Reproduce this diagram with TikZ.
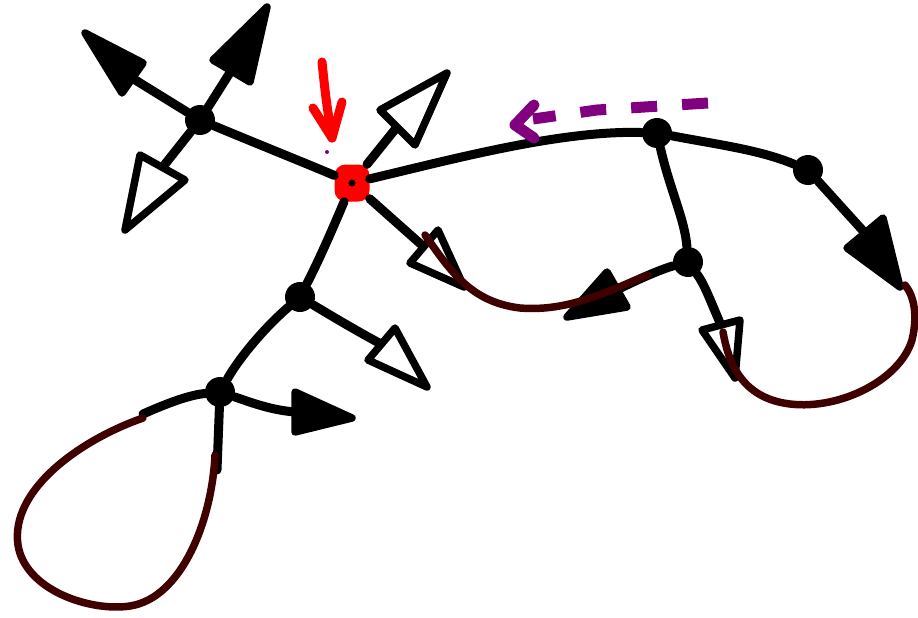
\documentclass[tikz,border=0pt]{standalone}
\definecolor{wine}{HTML}{3F0000}
\definecolor{plum}{HTML}{800080}
\tikzset{
  dot/.style={circle, fill=black, inner sep=0pt, minimum size=30pt},
  hub/.style={rectangle, rounded corners=11pt, fill=red, inner sep=0pt, minimum width=35pt, minimum height=37pt},
  ink/.style={draw=black, line width=9pt, line cap=round, line join=round},
  loopline/.style={draw=wine, line width=7.5pt, line cap=round, line join=round},
  headopen/.style={draw=black, fill=white, line width=7.5pt, line join=round},
  headfull/.style={draw=black, fill=black, line width=7.5pt, line join=round},
}
\begin{document}
\begin{tikzpicture}[x=1pt, y=-1pt]
\useasboundingbox (0,0) rectangle (918,618);

% hubs
\node[dot] (A) at (200,120) {};
\node[hub] (R) at (352,183) {};
\fill[black] (R.center) circle (3.5);
\node[dot] (B) at (300,297) {};
\node[dot] (C) at (220,392) {};
\node[dot] (D) at (657,133) {};
\node[dot] (E) at (808,170) {};
\node[dot] (F) at (688,262) {};

% ends of the arrow shafts (base of each head)
\coordinate (a1) at (132,78);
\coordinate (a2) at (231,71);
\coordinate (a3) at (162,168);
\coordinate (r1) at (397,127);
\coordinate (r2) at (424,247);
\coordinate (b1) at (381,344);
\coordinate (c1) at (295,412);
\coordinate (cl) at (143,414);
\coordinate (cd) at (217,470);
\coordinate (e1) at (865,233);
\coordinate (f1) at (721,325);
\coordinate (f2) at (617,290);

% shafts and links
\draw[ink] (A) -- (a1);
\draw[ink] (A) -- (a2);
\draw[ink] (A) -- (a3);
\draw[ink] (A) .. controls (260,145) and (310,165) .. (R);
\draw[ink] (R) -- (r1);
\draw[ink] (R) -- (r2);
\draw[ink] (R) .. controls (450,160) and (560,130) .. (D);
\draw[ink] (R) .. controls (330,235) and (318,262) .. (B);
\draw[ink] (B) .. controls (262,330) and (238,360) .. (C);
\draw[ink] (B) .. controls (330,315) and (355,330) .. (b1);
\draw[ink] (C) .. controls (250,402) and (270,410) .. (c1);
\draw[ink] (C) .. controls (190,395) and (170,402) .. (cl);
\draw[ink] (C) -- (cd);
\draw[ink] (D) .. controls (720,145) and (760,150) .. (E);
\draw[ink] (E) -- (e1);
\draw[ink] (D) .. controls (670,190) and (685,220) .. (F);
\draw[ink] (F) .. controls (705,285) and (712,305) .. (f1);
\draw[ink] (F) .. controls (665,268) and (640,278) .. (f2);

% arrow heads
\filldraw[headfull] (85,33) -- (143,63) -- (122,93) -- cycle;
\filldraw[headfull] (267,7) -- (213,60) -- (250,82) -- cycle;
\filldraw[headopen] (125,230) -- (140,155) -- (185,180) -- cycle;
\filldraw[headopen] (447,73) -- (380,110) -- (415,145) -- cycle;
\filldraw[headopen] (464,287) -- (410,263) -- (438,230) -- cycle;
\filldraw[headopen] (427,387) -- (368,360) -- (395,328) -- cycle;
\filldraw[headfull] (352,418) -- (295,392) -- (295,432) -- cycle;
\filldraw[headfull] (900,287) -- (847,248) -- (883,218) -- cycle;
\filldraw[headopen] (735,378) -- (702,330) -- (740,320) -- cycle;
\filldraw[headfull] (567,317) -- (607,272) -- (627,307) -- cycle;

% dark red strokes
\draw[loopline] (143,418) .. controls (80,440) and (10,490) .. (18,545)
  .. controls (25,590) and (90,612) .. (130,606)
  .. controls (182,598) and (212,520) .. (215,455);
\draw[loopline] (425,235) .. controls (450,270) and (470,302) .. (520,308)
  .. controls (570,312) and (610,290) .. (648,275);
\draw[loopline] (723,332) .. controls (728,360) and (740,398) .. (790,404)
  .. controls (840,410) and (900,380) .. (912,340)
  .. controls (918,315) and (914,296) .. (905,285);

% red pointer
\coordinate (redtail) at (322,62);
\coordinate (redtip) at (332,138);
\draw[red, line width=9pt, line cap=round, line join=round]
  (redtail) .. controls (326,100) .. (redtip);
\draw[red, line width=9pt, line cap=round, line join=round]
  (313,108) -- (redtip) -- (342,102);
\fill[plum] (327,152) circle (2);

% purple dashed pointer
\coordinate (ptail) at (708,103);
\coordinate (ptip) at (515,125);
\draw[plum, line width=11pt, dash pattern=on 26pt off 25pt]
  (ptail) -- (597,110) -- (533,119);
\draw[plum, line width=11pt, line cap=round, line join=round]
  (534,105) -- (ptip) -- (534,138);
\end{tikzpicture}
\end{document}
